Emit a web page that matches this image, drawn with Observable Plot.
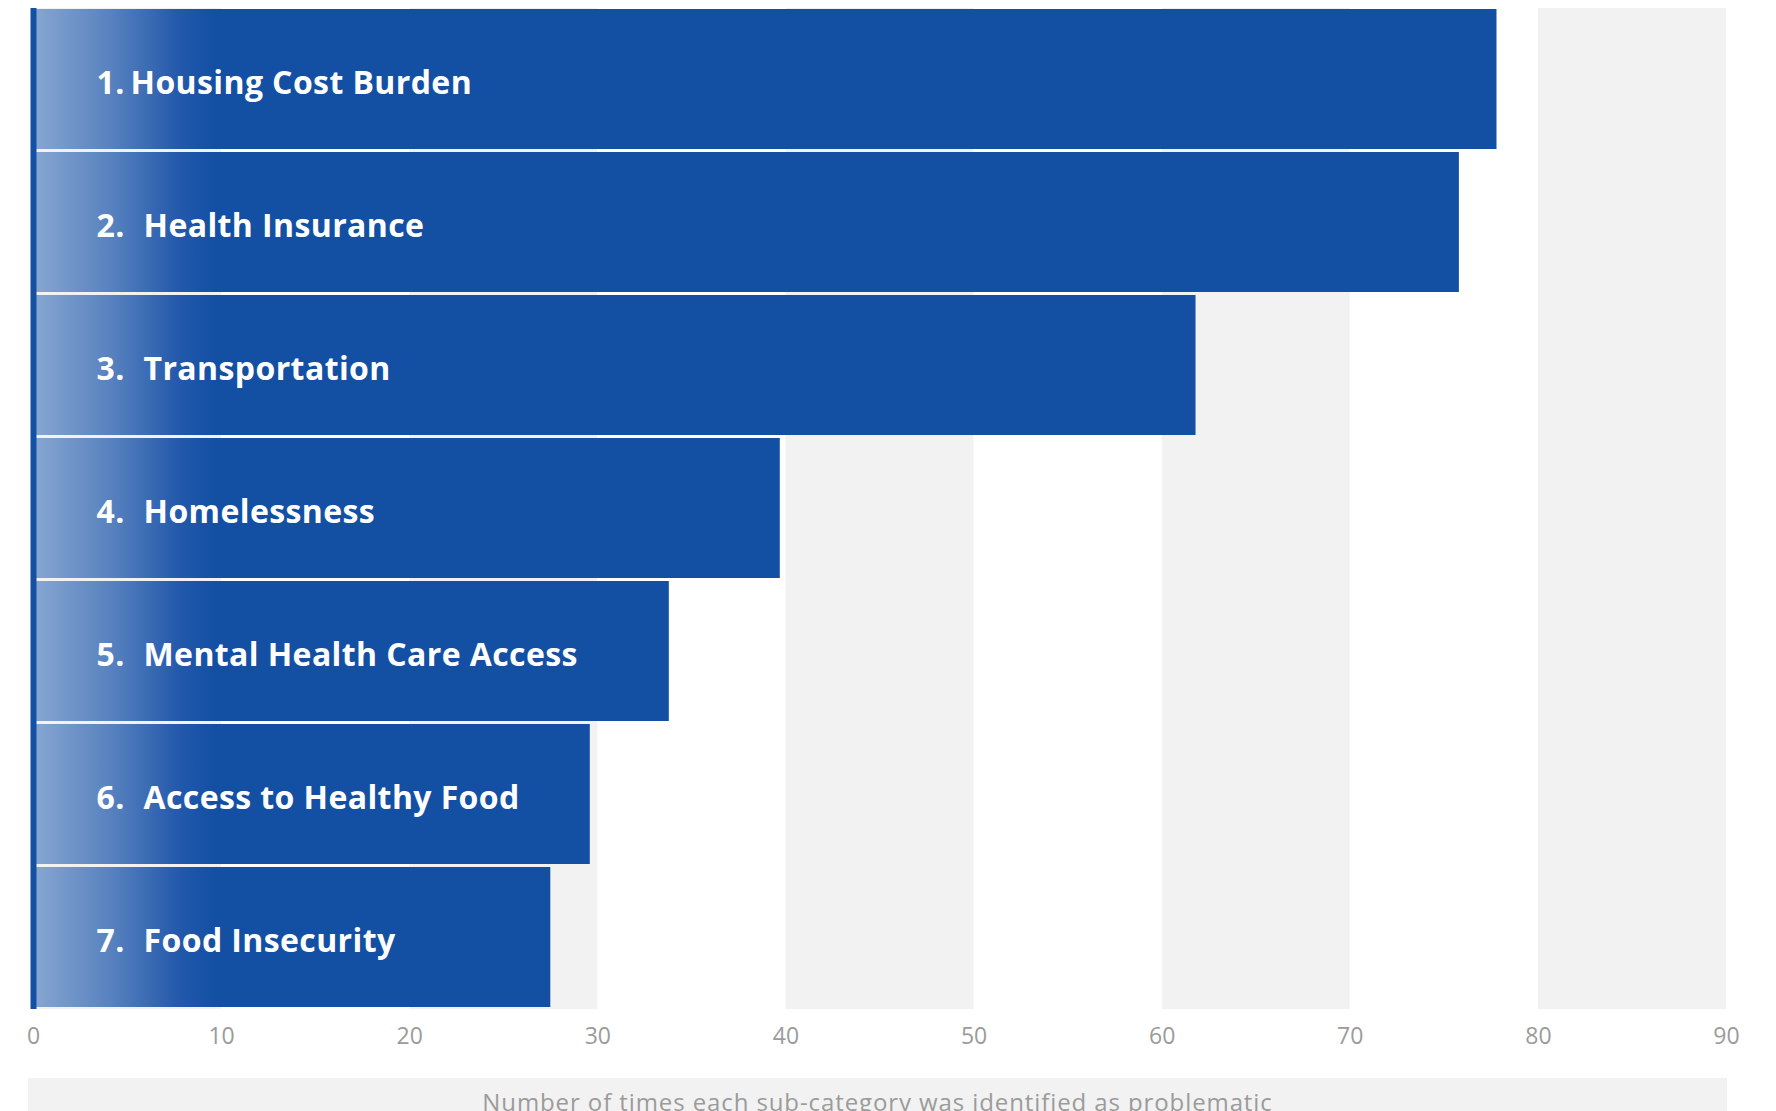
<!DOCTYPE html>
<html><head><meta charset="utf-8">
<script src="https://cdn.jsdelivr.net/npm/d3@7"></script>
<script src="https://cdn.jsdelivr.net/npm/@observablehq/plot@0.6"></script>
<style>
html,body{margin:0;padding:0;background:#fff;overflow:hidden;}
#wrap{position:relative;width:1776px;height:1111px;overflow:hidden;}
#caption{position:absolute;left:28px;top:1078px;width:1699px;height:60px;background:#f2f2f2;color:#9b9b9b;font-family:"Open Sans";font-weight:400;font-size:24px;letter-spacing:0.9px;line-height:24px;padding-top:12px;box-sizing:border-box;text-align:center;white-space:nowrap;}
g.barlabel text{letter-spacing:0.4px;}
</style></head>
<body><div id="wrap"><div id="chart"></div><div id="caption"></div></div>
<script>
const categories = ["Housing Cost Burden","Health Insurance","Transportation","Homelessness","Mental Health Care Access","Access to Healthy Food","Food Insecurity"];
const ranks = ["1.","2.","3.","4.","5.","6.","7."];
const values = [77.8, 75.8, 61.8, 39.7, 33.8, 29.6, 27.5];
const xTicks = [0,10,20,30,40,50,60,70,80,90];
const bandStarts = [0,20,40,60,80];
const bandSize = 10;
const captionText = "Number of times each sub-category was identified as problematic";

const rows = categories.map((c,i)=>({rank: ranks[i], name: c, value: values[i]}));
const blue = "#1350a4";
const labelStyle = {fill: "white", fontSize: 32, fontWeight: 700, textAnchor: "start", dy: 3, className: "barlabel"};

const chart = Plot.plot({
  width: 1776, height: 1060,
  marginTop: 8, marginBottom: 49, marginLeft: 33, marginRight: 50,
  style: {fontFamily: "Open Sans", fontSize: "23px", color: "#9b9b9b", background: "white"},
  x: {domain: [0, 90], ticks: xTicks, tickSize: 0, tickPadding: 16, label: null},
  y: {domain: categories, padding: 0, axis: null},
  marks: [
    Plot.rect(bandStarts, {x1: d => d, x2: d => d + bandSize, fill: "#f2f2f2", insetBottom: 2}),
    Plot.barX(rows, {y: "name", x: "value", fill: "url(#barGrad)", insetTop: 0, insetBottom: 3}),
    Plot.ruleX([0], {stroke: blue, strokeWidth: 6, insetBottom: 2}),
    Plot.text(rows, {y: "name", x: 0, text: "rank", dx: 63, ...labelStyle}),
    Plot.text(rows.slice(0,1), {y: "name", x: 0, text: "name", dx: 97, ...labelStyle}),
    Plot.text(rows.slice(1), {y: "name", x: 0, text: "name", dx: 110, ...labelStyle})
  ]
});

const xs = chart.scale("x");
const ns = "http://www.w3.org/2000/svg";
const defs = document.createElementNS(ns, "defs");
defs.innerHTML = `<linearGradient id="barGrad" gradientUnits="userSpaceOnUse" x1="${xs.apply(0)}" x2="${xs.apply(9.6)}" y1="0" y2="0"><stop offset="0" stop-color="#88a7d2"/><stop offset="0.45" stop-color="#5580be"/><stop offset="0.8" stop-color="#2459ab"/><stop offset="1" stop-color="${blue}"/></linearGradient>`;
chart.insertBefore(defs, chart.firstChild);
document.getElementById("chart").appendChild(chart);
document.getElementById("caption").textContent = captionText;
</script>
</body></html>
